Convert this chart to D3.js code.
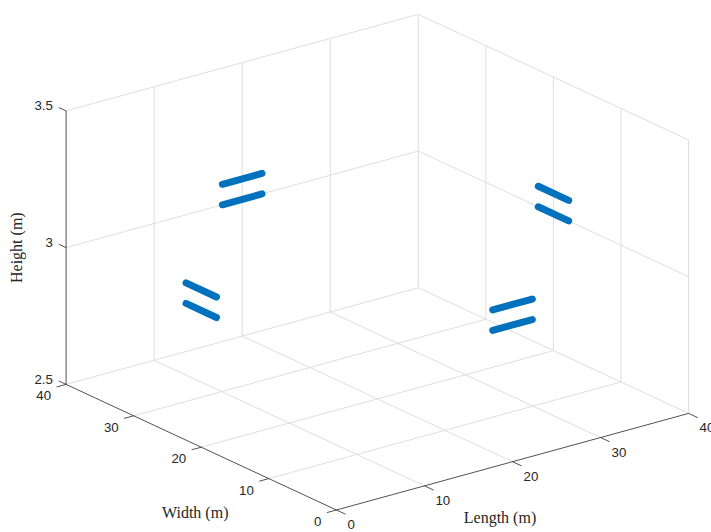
<!DOCTYPE html>
<html>
<head>
<meta charset="utf-8">
<script src="https://cdn.jsdelivr.net/npm/d3@7"></script>
<style>
  body { margin: 0; background: #fff; }
  svg { display: block; }
</style>
</head>
<body>
<svg id="chart" width="711" height="532"></svg>
<script>
// axis ticks
var lengthTicks = [0, 10, 20, 30, 40]
var widthTicks = [0, 10, 20, 30, 40]
var heightTicks = [2.5, 3, 3.5]

// line segments (metres): start / end in length, width, height
var segLen0 = [17.75, 17.75, 40, 40, 0, 0, 17.75, 17.75]
var segLen1 = [22.25, 22.25, 40, 40, 0, 0, 22.25, 22.25]
var segWid0 = [40, 40, 17.75, 17.75, 17.75, 17.75, 0, 0]
var segWid1 = [40, 40, 22.25, 22.25, 22.25, 22.25, 0, 0]
var segHeight = [3.0, 3.075, 3.0, 3.075, 3.0, 3.075, 3.0, 3.075]

var svg = d3.select('#chart')

// oblique projection of the 3d box
var sx = d3.scaleLinear().domain([0, 40]).range([0, 1])
var sy = d3.scaleLinear().domain([0, 40]).range([0, 1])
var sz = d3.scaleLinear().domain([2.5, 3.5]).range([0, 1])
var O = [336.4, 510], EX = [352.2, -96.6], EY = [-270.3, -125.6], EZ = [0, -273.5]

function proj (x, y, z) {
  var a = sx(x), b = sy(y), c = sz(z)
  return [O[0] + a * EX[0] + b * EY[0] + c * EZ[0],
          O[1] + a * EX[1] + b * EY[1] + c * EZ[1]]
}

var line = d3.line()
function seg (p, q, color, w) {
  svg.append('path')
    .attr('d', line([proj(p[0], p[1], p[2]), proj(q[0], q[1], q[2])]))
    .attr('fill', 'none')
    .attr('stroke', color)
    .attr('stroke-width', w)
}

var gridColor = '#dedede'
var axisColor = '#262626'
var z0 = 2.5, z1 = 3.5

// floor grid
lengthTicks.slice(1, -1).forEach(function (x) { seg([x, 0, z0], [x, 40, z0], gridColor, 1) })
widthTicks.slice(1, -1).forEach(function (y) { seg([0, y, z0], [40, y, z0], gridColor, 1) })
// back wall (width = 40)
lengthTicks.slice(1, -1).forEach(function (x) { seg([x, 40, z0], [x, 40, z1], gridColor, 1) })
// side wall (length = 40)
widthTicks.slice(1, -1).forEach(function (y) { seg([40, y, z0], [40, y, z1], gridColor, 1) })
heightTicks.slice(1, -1).forEach(function (z) {
  seg([0, 40, z], [40, 40, z], gridColor, 1)
  seg([40, 40, z], [40, 0, z], gridColor, 1)
})
// box edges
seg([0, 40, z0], [40, 40, z0], gridColor, 1)
seg([40, 40, z0], [40, 0, z0], gridColor, 1)
seg([40, 40, z0], [40, 40, z1], gridColor, 1)
seg([40, 0, z0], [40, 0, z1], gridColor, 1)
seg([0, 40, z1], [40, 40, z1], gridColor, 1)
seg([40, 40, z1], [40, 0, z1], gridColor, 1)

// axis lines
seg([0, 0, z0], [0, 40, z0], axisColor, 0.8)
seg([0, 0, z0], [40, 0, z0], axisColor, 0.8)
seg([0, 40, z0], [0, 40, z1], axisColor, 0.8)

var tickFont = "'Liberation Sans', Arial, Helvetica, sans-serif"

// width ticks (point toward -length)
widthTicks.forEach(function (y) {
  var p = proj(0, y, z0)
  svg.append('line')
    .attr('x1', p[0]).attr('y1', p[1])
    .attr('x2', p[0] - 9.6).attr('y2', p[1] + 2.6)
    .attr('stroke', axisColor).attr('stroke-width', 0.8)
  svg.append('text')
    .attr('x', p[0] - 15).attr('y', p[1] + 12.5)
    .attr('text-anchor', 'end')
    .attr('dominant-baseline', 'middle')
    .attr('font-family', tickFont).attr('font-size', 13.3)
    .attr('fill', axisColor)
    .text(y)
})

// length ticks (point toward -width)
lengthTicks.forEach(function (x) {
  var p = proj(x, 0, z0)
  svg.append('line')
    .attr('x1', p[0]).attr('y1', p[1])
    .attr('x2', p[0] + 9.1).attr('y2', p[1] + 4.2)
    .attr('stroke', axisColor).attr('stroke-width', 0.8)
  svg.append('text')
    .attr('x', p[0] + 11).attr('y', p[1] + 15.5)
    .attr('text-anchor', 'start')
    .attr('dominant-baseline', 'middle')
    .attr('font-family', tickFont).attr('font-size', 13.3)
    .attr('fill', axisColor)
    .text(x)
})

// height ticks
heightTicks.forEach(function (z) {
  var p = proj(0, 40, z)
  svg.append('line')
    .attr('x1', p[0]).attr('y1', p[1])
    .attr('x2', p[0] - 7.3).attr('y2', p[1] - 3.4)
    .attr('stroke', axisColor).attr('stroke-width', 0.8)
  svg.append('text')
    .attr('x', p[0] - 13.2).attr('y', p[1] - 4)
    .attr('text-anchor', 'end')
    .attr('dominant-baseline', 'middle')
    .attr('font-family', tickFont).attr('font-size', 13.3)
    .attr('fill', axisColor)
    .text(d3.format('~g')(z))
})

// axis titles
var titleFont = "'Liberation Serif', 'Times New Roman', serif"
var pw = proj(0, 20, z0)
svg.append('text')
  .attr('x', pw[0] - 6).attr('y', pw[1] + 67)
  .attr('text-anchor', 'middle').attr('dominant-baseline', 'middle')
  .attr('font-family', titleFont).attr('font-size', 16).attr('fill', axisColor)
  .text('Width (m)')
var pl = proj(20, 0, z0)
svg.append('text')
  .attr('x', pl[0] - 12.5).attr('y', pl[1] + 58)
  .attr('text-anchor', 'middle').attr('dominant-baseline', 'middle')
  .attr('font-family', titleFont).attr('font-size', 16).attr('fill', axisColor)
  .text('Length (m)')
var ph = proj(0, 40, 3)
svg.append('text')
  .attr('transform', 'translate(' + (ph[0] - 47.6) + ',' + ph[1] + ') rotate(-90)')
  .attr('text-anchor', 'middle').attr('dominant-baseline', 'middle')
  .attr('font-family', titleFont).attr('font-size', 16).attr('fill', axisColor)
  .text('Height (m)')

// data segments
segHeight.forEach(function (z, i) {
  svg.append('path')
    .attr('d', line([proj(segLen0[i], segWid0[i], z), proj(segLen1[i], segWid1[i], z)]))
    .attr('fill', 'none')
    .attr('stroke', '#0072BD')
    .attr('stroke-width', 7)
    .attr('stroke-linecap', 'round')
})
</script>
</body>
</html>
